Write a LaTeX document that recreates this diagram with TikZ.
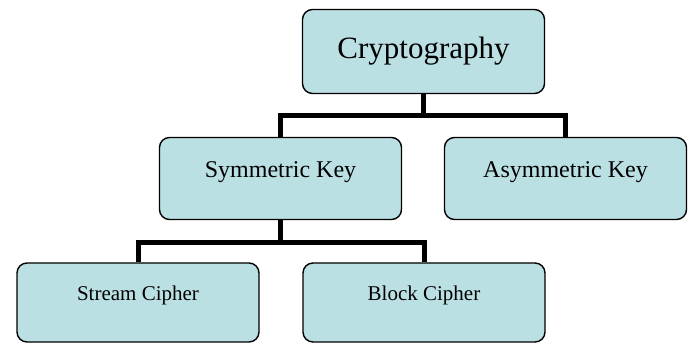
\documentclass[tikz,border=0pt]{standalone}
\usepackage{fontspec}
\setmainfont{Liberation Serif}
\definecolor{boxfill}{RGB}{187,224,227}
\tikzset{
  box/.style={draw, fill=boxfill, line width=1.4pt, rounded corners=10pt,
    minimum width=242pt, inner sep=0pt},
  conn/.style={line width=5pt}
}
\begin{document}
\begin{tikzpicture}[x=1pt, y=1pt]
    \useasboundingbox (0,0) rectangle (692,344);                                                       % Rahmen
    \node[box, minimum height=84pt, font=\fontsize{31pt}{36pt}\selectfont,
          text height=20.5pt, text depth=7pt]  (crypto) at (423.5,292.5) {Cryptography};               % Wurzel
    \node[box, minimum height=82pt, font=\fontsize{24pt}{28pt}\selectfont,
          text height=15.9pt, text depth=18pt] (sym)    at (280.5,165.5) {Symmetric Key};              % links
    \node[box, minimum height=82pt, font=\fontsize{24pt}{28pt}\selectfont,
          text height=15.9pt, text depth=18pt] (asym)   at (565.5,165.5) {Asymmetric Key};             % rechts
    \node[box, minimum height=79pt, font=\fontsize{21pt}{25pt}\selectfont,
          text height=13.9pt, text depth=17pt] (stream) at (138,41.5)    {Stream Cipher};              % Strom
    \node[box, minimum height=79pt, font=\fontsize{21pt}{25pt}\selectfont,
          text height=13.9pt, text depth=17pt] (block)  at (424,41.5)    {Block Cipher};               % Block
    \draw[conn] (crypto.south) -- ++(0,-21) -| (sym.north);                                            % Ast links
    \draw[conn] (crypto.south) -- ++(0,-21) -| (asym.north);                                           % Ast rechts
    \draw[conn] (sym.south) -- ++(0,-22) -| (stream.north);                                            % Ast Strom
    \draw[conn] (sym.south) -- ++(0,-22) -| (block.north);                                             % Ast Block
\end{tikzpicture}
\end{document}
